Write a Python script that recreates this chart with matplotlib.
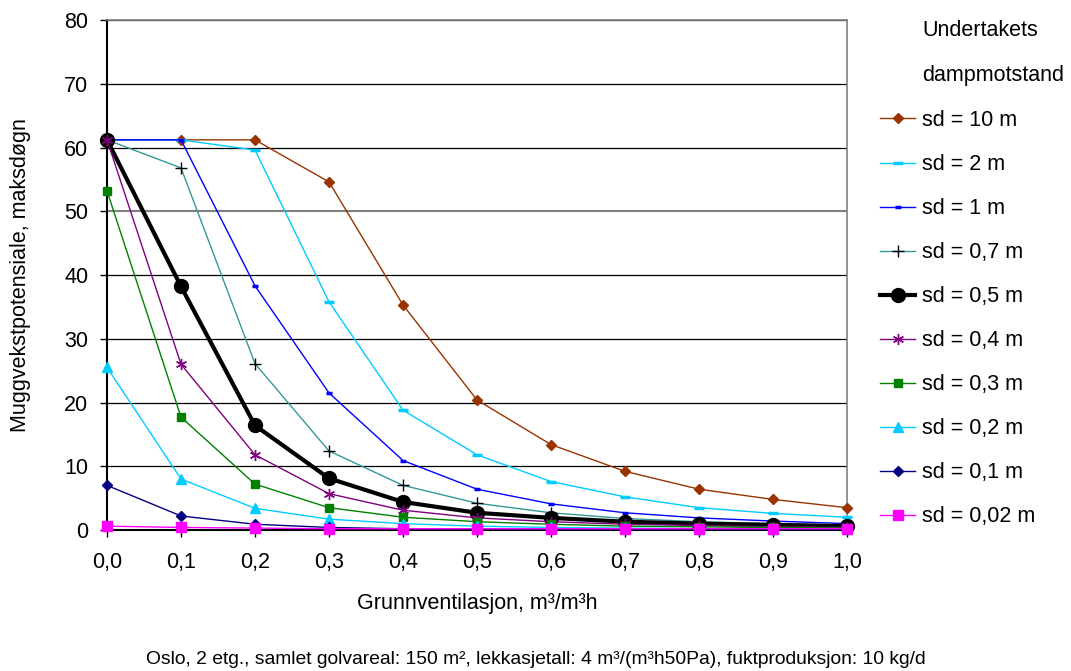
import matplotlib.pyplot as plt

plt.rcParams["font.family"] = ["Liberation Sans", "DejaVu Sans"]

x = [0.0, 0.1, 0.2, 0.3, 0.4, 0.5, 0.6, 0.7, 0.8, 0.9, 1.0]
x_labels = ["0,0", "0,1", "0,2", "0,3", "0,4", "0,5", "0,6", "0,7", "0,8", "0,9", "1,0"]

sd_10 = [61.2, 61.2, 61.2, 54.6, 35.3, 20.4, 13.4, 9.2, 6.4, 4.8, 3.5]
sd_2 = [61.2, 61.2, 59.6, 35.8, 18.8, 11.8, 7.6, 5.2, 3.5, 2.6, 2.0]
sd_1 = [61.2, 61.2, 38.3, 21.5, 10.9, 6.4, 4.1, 2.7, 1.9, 1.4, 1.0]
sd_07 = [61.2, 56.8, 26.1, 12.4, 7.0, 4.2, 2.7, 1.8, 1.3, 1.0, 0.8]
sd_05 = [61.2, 38.2, 16.4, 8.1, 4.4, 2.7, 1.9, 1.3, 1.0, 0.8, 0.6]
sd_04 = [61.2, 26.0, 11.8, 5.7, 3.1, 1.9, 1.3, 0.9, 0.7, 0.5, 0.4]
sd_03 = [53.2, 17.7, 7.2, 3.5, 2.0, 1.3, 0.9, 0.6, 0.5, 0.4, 0.3]
sd_02 = [25.5, 8.0, 3.4, 1.7, 1.0, 0.6, 0.4, 0.3, 0.2, 0.2, 0.1]
sd_01 = [7.0, 2.2, 0.9, 0.4, 0.2, 0.2, 0.1, 0.1, 0.1, 0.1, 0.1]
sd_002 = [0.6, 0.4, 0.3, 0.2, 0.2, 0.2, 0.2, 0.2, 0.2, 0.2, 0.2]

series = [
    ("sd = 10 m", sd_10, dict(color="#993300", marker="D", ms=5, lw=1)),
    ("sd = 2 m", sd_2, dict(color="#00CCFF", marker="_", ms=7, mew=2.5, lw=1)),
    ("sd = 1 m", sd_1, dict(color="#0000FF", marker="_", ms=5, mew=2.5, lw=1)),
    ("sd = 0,7 m", sd_07, dict(color="#339999", marker="+", ms=8, mec="black", mew=1, lw=1)),
    ("sd = 0,5 m", sd_05, dict(color="black", marker="o", ms=10, lw=3)),
    ("sd = 0,4 m", sd_04, dict(color="#800080", marker=(6, 2, 0), ms=8, mew=1, lw=1)),
    ("sd = 0,3 m", sd_03, dict(color="#008000", marker="s", ms=6, lw=1)),
    ("sd = 0,2 m", sd_02, dict(color="#00CCFF", marker="^", ms=7, lw=1)),
    ("sd = 0,1 m", sd_01, dict(color="#000080", marker="D", ms=5, lw=1)),
    ("sd = 0,02 m", sd_002, dict(color="#FF00FF", marker="s", ms=7, lw=1)),
]

fs = 15.5

fig = plt.figure(figsize=(10.71, 6.71), dpi=100)
ax = fig.add_axes([107 / 1071, 1 - 530 / 671, 740 / 1071, 510 / 671])

for label, values, style in series:
    ax.plot(x, values, label=label, clip_on=False, zorder=3, **style)

ax.set_xlim(0, 1.0)
ax.set_ylim(0, 80)
ax.set_xticks(x)
ax.set_xticklabels(x_labels)
ax.set_yticks(range(0, 81, 10))
ax.tick_params(axis="both", labelsize=fs, length=5, width=1, direction="out")
ax.tick_params(axis="x", pad=11)
ax.tick_params(axis="y", pad=8.5)

ax.grid(axis="y", color="black", lw=0.9)
ax.get_ygridlines()[5].set_color("gray")
ax.get_ygridlines()[5].set_linewidth(1.5)
ax.set_axisbelow(True)

ax.spines["left"].set_linewidth(1.5)
ax.spines["bottom"].set_linewidth(1.5)
ax.spines["top"].set_color("gray")
ax.spines["right"].set_color("gray")
ax.spines["top"].set_linewidth(1.2)
ax.spines["right"].set_linewidth(1.2)

ax.set_xlabel("Grunnventilasjon, m³/m³h", fontsize=fs)
ax.set_ylabel("Muggvekstpotensiale, maksdøgn", fontsize=fs)
ax.xaxis.set_label_coords(0.5, (530 - 593) / 510)
ax.yaxis.set_label_coords((31 - 107) / 740, 0.5)

fig.legend(
    loc="upper left",
    bbox_to_anchor=(880 / 1071, 1 - 110 / 671),
    frameon=False,
    fontsize=fs,
    handlelength=1.63,
    handletextpad=0.33,
    labelspacing=1.07,
    borderaxespad=0,
    borderpad=0,
)
fig.text(922 / 1071, 1 - 31 / 671, "Undertakets", fontsize=fs, va="center")
fig.text(922 / 1071, 1 - 75 / 671, "dampmotstand", fontsize=fs, va="center")

fig.text(
    0.5,
    1 - 660 / 671,
    "Oslo, 2 etg., samlet golvareal: 150 m², lekkasjetall: 4 m³/(m³h50Pa), fuktproduksjon: 10 kg/d",
    fontsize=13.9,
    ha="center",
    va="center",
)

fig.savefig("out.png", dpi=100)
